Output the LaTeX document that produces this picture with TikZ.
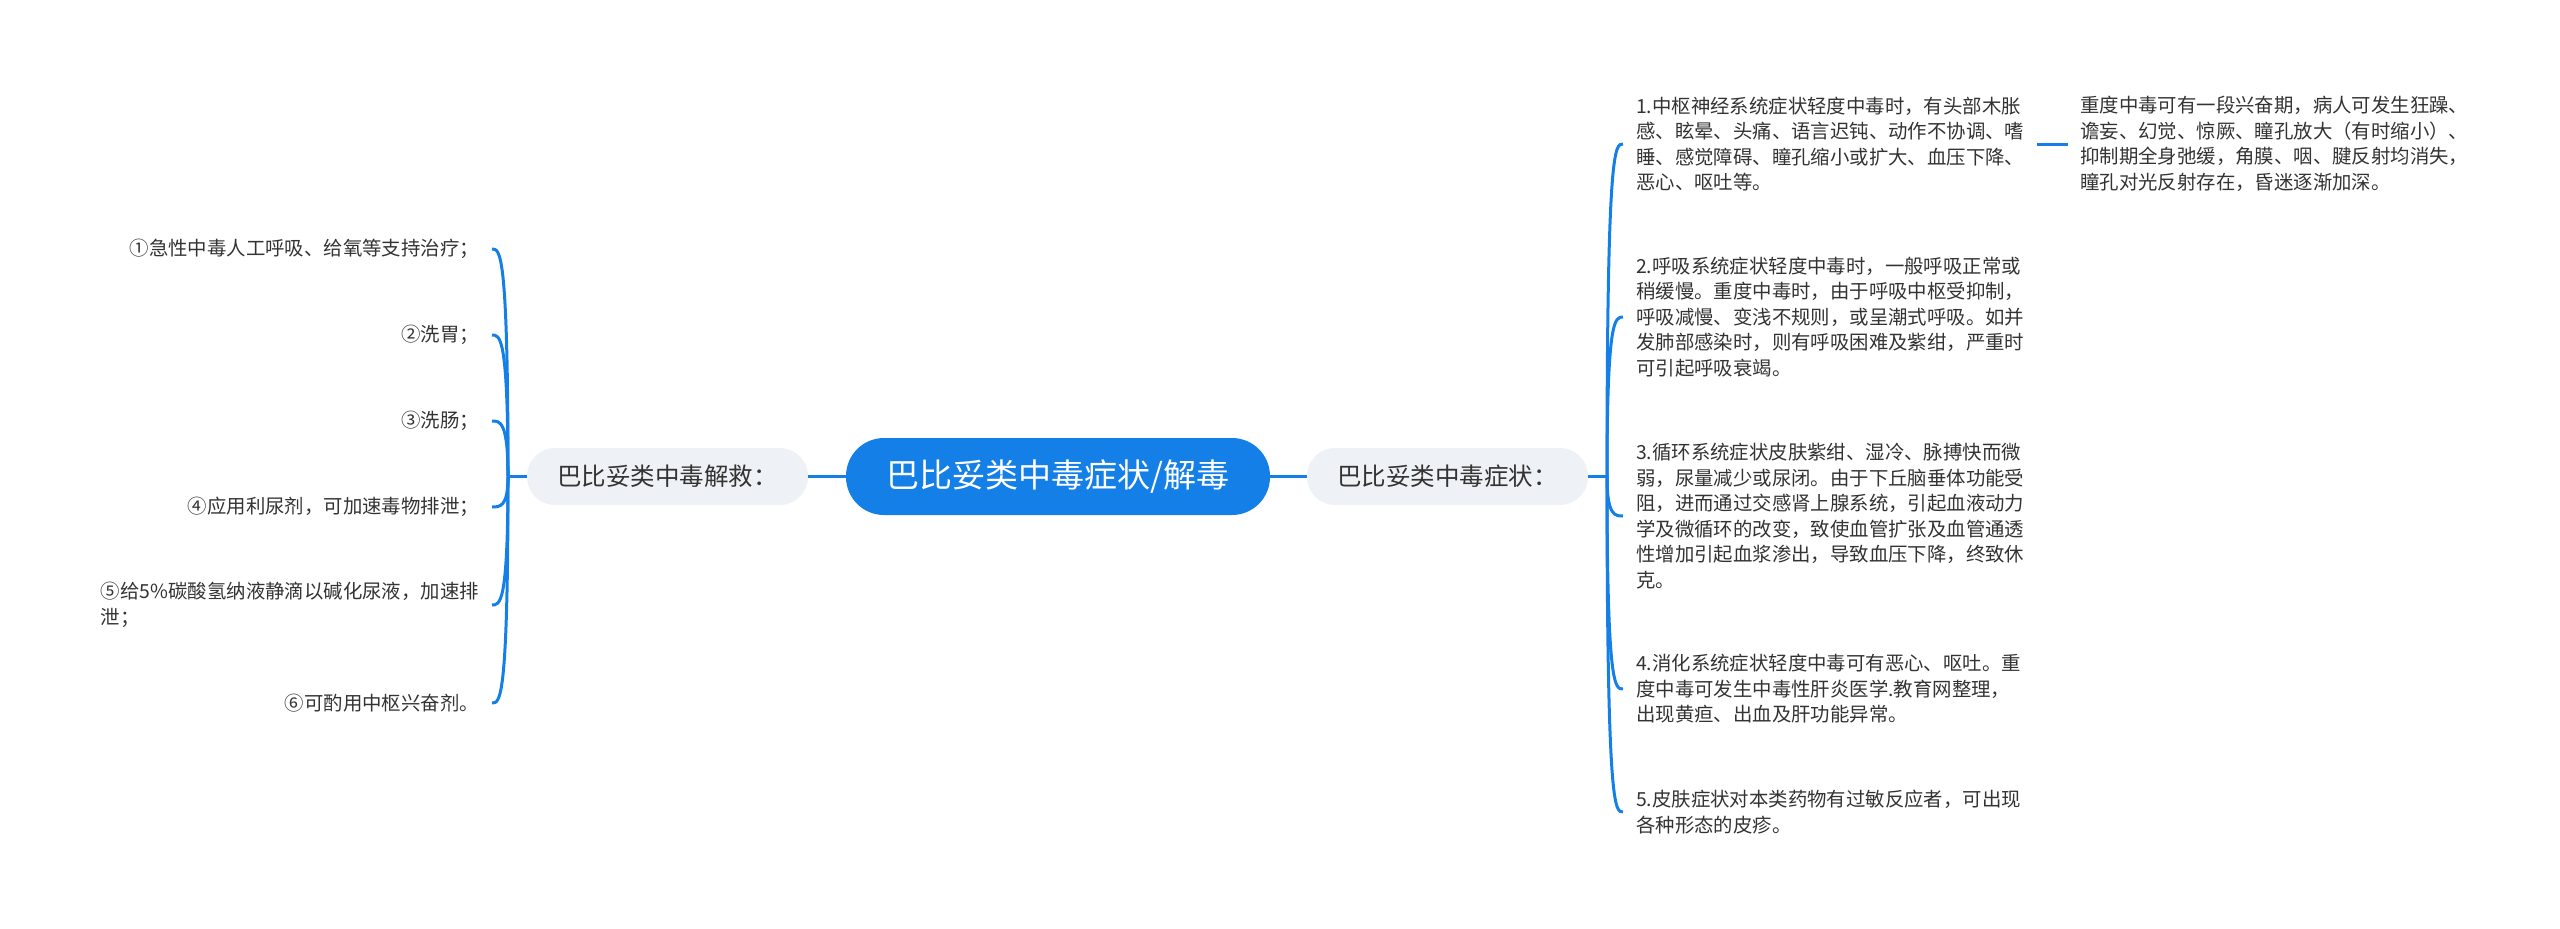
\documentclass[tikz,border=0pt]{standalone}
\usepackage{fontspec}
\setmainfont{Noto Sans CJK SC}
\usetikzlibrary{calc}
\definecolor{mainblue}{RGB}{20,127,230}
\definecolor{subgray}{RGB}{238,241,245}
\definecolor{txt}{RGB}{51,51,51}
\begin{document}
\begin{tikzpicture}[x=1pt,y=-1pt,
 conn/.style={draw=mainblue,line width=3pt},
 rootbox/.style={fill=mainblue,text=white,rounded corners=38pt,minimum width=424pt,minimum height=77pt,font=\fontsize{33}{40}\selectfont,inner sep=0pt},
 subbox/.style={fill=subgray,text=txt,rounded corners=28pt,minimum width=281pt,minimum height=57pt,font=\fontsize{24.5}{30}\selectfont,inner sep=0pt},
 leafR/.style={anchor=west,align=left,text=txt,font=\fontsize{19.4}{25.5}\selectfont,inner xsep=13pt,inner ysep=3pt},
 leafL/.style={anchor=east,align=left,text=txt,font=\fontsize{19.4}{25.5}\selectfont,inner xsep=13pt,inner ysep=3pt}
]
\useasboundingbox (0,0) rectangle (2560,929);

\node[rootbox] (root) at (1058,476.5) {巴比妥类中毒症状/解毒};
\node[subbox] (subR) at (1447.5,476.5) {巴比妥类中毒症状：};
\node[subbox] (subL) at (667.5,476.5) {巴比妥类中毒解救：};
\coordinate (jR) at (1607,476.5);
\coordinate (jL) at (508,476.5);

\draw[conn] (root.east) -- (subR.west);
\draw[conn] (root.west) -- (subL.east);
\draw[conn] (subR.east) -- (jR);
\draw[conn] (subL.west) -- (jL);

% right leaves
\node[leafR] (r1) at (1623,144) {1.中枢神经系统症状轻度中毒时，有头部木胀\\感、眩晕、头痛、语言迟钝、动作不协调、嗜\\睡、感觉障碍、瞳孔缩小或扩大、血压下降、\\恶心、呕吐等。};
\node[leafR] (r2) at (1623,317) {2.呼吸系统症状轻度中毒时，一般呼吸正常或\\稍缓慢。重度中毒时，由于呼吸中枢受抑制，\\呼吸减慢、变浅不规则，或呈潮式呼吸。如并\\发肺部感染时，则有呼吸困难及紫绀，严重时\\可引起呼吸衰竭。};
\node[leafR] (r3) at (1623,516) {3.循环系统症状皮肤紫绀、湿冷、脉搏快而微\\弱，尿量减少或尿闭。由于下丘脑垂体功能受\\阻，进而通过交感肾上腺系统，引起血液动力\\学及微循环的改变，致使血管扩张及血管通透\\性增加引起血浆渗出，导致血压下降，终致休\\克。};
\node[leafR] (r4) at (1623,689) {4.消化系统症状轻度中毒可有恶心、呕吐。重\\度中毒可发生中毒性肝炎医学.教育网整理，\\出现黄疸、出血及肝功能异常。};
\node[leafR] (r5) at (1623,812) {5.皮肤症状对本类药物有过敏反应者，可出现\\各种形态的皮疹。};
\node[leafR,inner xsep=12pt] (r1c) at (2068,144) {重度中毒可有一段兴奋期，病人可发生狂躁、\\谵妄、幻觉、惊厥、瞳孔放大（有时缩小）、\\抑制期全身弛缓，角膜、咽、腱反射均消失，\\瞳孔对光反射存在，昏迷逐渐加深。};

\foreach \n in {r1,r2,r3,r4,r5}{
  \draw[conn] (jR) .. controls (jR |- \n.west) and ($(jR |- \n.west)!0.5!(\n.west)$) .. (\n.west);
}
\draw[conn] (r1.east) -- (r1c.west);

% left leaves
\node[leafL] (l1) at (492,249) {①急性中毒人工呼吸、给氧等支持治疗；};
\node[leafL] (l2) at (492,335) {②洗胃；};
\node[leafL] (l3) at (492,421) {③洗肠；};
\node[leafL] (l4) at (492,507) {④应用利尿剂，可加速毒物排泄；};
\node[leafL] (l5) at (492,605) {⑤给5\%碳酸氢纳液静滴以碱化尿液，加速排\\泄；};
\node[leafL] (l6) at (492,703) {⑥可酌用中枢兴奋剂。};

\foreach \n in {l1,l2,l3,l4,l5,l6}{
  \draw[conn] (jL) .. controls (jL |- \n.east) and ($(jL |- \n.east)!0.5!(\n.east)$) .. (\n.east);
}
\end{tikzpicture}
\end{document}
